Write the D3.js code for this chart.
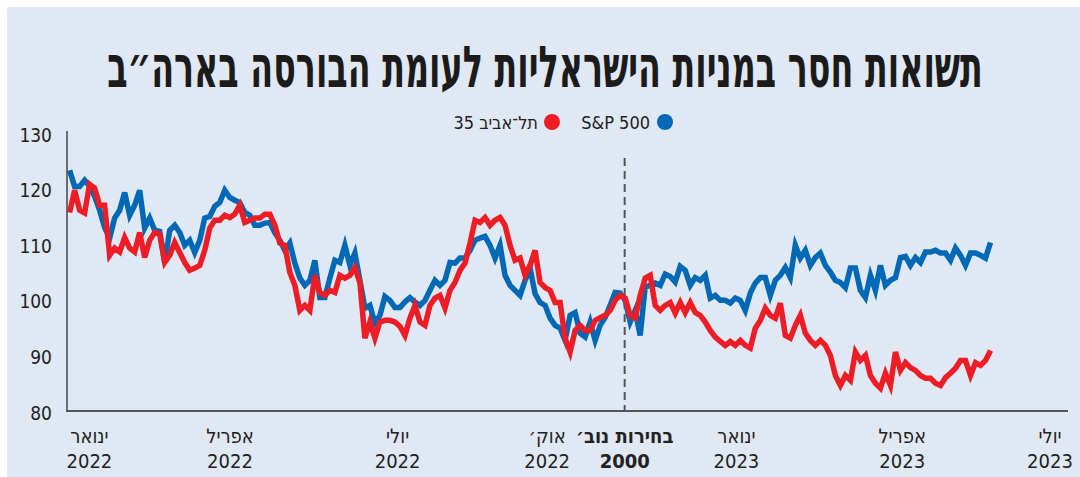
<!DOCTYPE html>
<html>
<head>
<meta charset="utf-8">
<script src="https://cdn.jsdelivr.net/npm/d3@7"></script>
<style>
  html, body { margin: 0; padding: 0; background: #fff; }
  svg { display: block; }
  text { font-family: 'DejaVu Sans Condensed', 'DejaVu Sans', 'Liberation Sans', sans-serif; fill: #222; }
</style>
</head>
<body>
<svg id="chart" width="1080" height="477"></svg>
<script>
// S&P 500 and TA-35, both indexed (Nov. election = ~100), sampled evenly from first to last date
const firstDate = new Date(2022, 0, 3);
const lastDate = new Date(2023, 4, 29);

const sp500 = [
  123.3, 120.4, 120.4, 121.5, 120.4, 118.6, 116.1, 113.0, 111.1, 114.7,
  116.1, 119.3, 115.2, 117.0, 119.7, 112.9, 114.7, 112.5, 112.3, 106.7,
  112.5, 113.4, 112.1, 109.8, 110.7, 108.5, 110.7, 114.7, 115.0, 116.8,
  117.5, 119.7, 118.4, 117.9, 117.5, 115.7, 115.2, 113.4, 113.4, 113.8,
  113.9, 112.1, 110.7, 108.9, 110.2, 106.6, 103.9, 102.6, 103.5, 107.1,
  100.4, 100.4, 103.9, 107.1, 106.7, 109.8, 106.2, 108.4, 103.5, 98.5,
  99.0, 95.8, 97.2, 100.6, 99.9, 98.6, 98.6, 99.6, 100.4, 99.6,
  99.0, 99.9, 101.7, 103.5, 102.6, 103.5, 106.7, 106.6, 107.5, 107.5,
  108.9, 110.7, 111.1, 111.4, 109.8, 107.5, 109.8, 104.4, 102.6, 101.7,
  100.8, 103.5, 105.7, 101.1, 99.5, 99.0, 96.7, 95.4, 94.9, 92.7,
  97.2, 97.7, 94.0, 93.3, 96.0, 92.7, 95.4, 96.8, 99.0, 101.3,
  101.2, 99.9, 96.0, 98.1, 93.6, 102.3, 102.6, 103.0, 102.6, 104.6,
  104.2, 103.2, 106.0, 105.3, 102.6, 104.0, 103.5, 104.4, 100.3, 100.8,
  99.9, 99.9, 99.4, 100.3, 99.9, 98.1, 101.2, 103.0, 104.0, 104.0,
  100.8, 103.5, 104.4, 105.8, 104.0, 109.8, 107.5, 108.9, 106.2, 107.6,
  108.4, 106.2, 105.0, 103.5, 103.1, 102.2, 105.7, 105.7, 101.7, 100.4,
  104.4, 101.7, 106.2, 102.6, 103.5, 104.0, 107.6, 107.8, 106.2, 107.6,
  106.7, 108.6, 108.6, 108.9, 108.4, 108.4, 107.1, 109.3, 108.0, 106.2,
  108.4, 108.4, 108.0, 107.5, 110.3
];

const ta35 = [
  115.7, 119.7, 116.1, 115.6, 120.8, 120.1, 117.0, 117.0, 108.0, 109.3,
  108.6, 111.2, 109.3, 108.6, 112.1, 107.6, 110.7, 112.1, 111.8, 106.7,
  108.0, 110.3, 108.5, 106.7, 105.3, 105.7, 106.2, 108.9, 112.9, 114.3,
  114.3, 115.2, 114.8, 115.4, 117.0, 113.9, 114.3, 114.7, 114.7, 115.4,
  115.4, 113.4, 110.2, 109.8, 104.9, 102.6, 98.1, 99.0, 98.1, 104.4,
  101.3, 100.8, 101.7, 101.3, 104.4, 103.9, 104.4, 105.8, 103.1, 93.1,
  96.0, 93.1, 96.0, 96.3, 96.3, 96.0, 95.2, 93.6, 96.7, 99.0,
  96.0, 95.4, 99.0, 100.3, 100.8, 98.5, 101.7, 103.1, 105.3, 106.6,
  110.2, 114.3, 113.9, 114.8, 113.4, 114.3, 114.8, 113.4, 109.8, 107.1,
  107.5, 104.4, 106.2, 108.9, 103.1, 102.2, 101.7, 99.5, 99.5, 93.1,
  90.6, 94.5, 95.4, 94.5, 94.5, 96.3, 96.8, 97.2, 98.1, 99.9,
  100.8, 100.3, 97.2, 96.7, 100.8, 103.9, 104.4, 99.0, 98.1, 99.0,
  99.5, 97.6, 99.5, 97.7, 99.5, 97.7, 97.2, 96.0, 94.5, 93.3,
  92.5, 91.8, 92.5, 91.8, 92.7, 91.8, 91.3, 94.9, 96.3, 98.5,
  97.2, 96.7, 99.4, 93.6, 93.1, 95.4, 97.2, 94.0, 92.7, 91.8,
  92.7, 91.8, 90.0, 86.4, 84.6, 86.4, 85.5, 90.6, 89.1, 90.0,
  86.4, 85.0, 84.1, 86.8, 84.6, 90.6, 87.3, 88.7, 87.8, 87.3,
  86.4, 85.9, 85.9, 85.0, 84.6, 86.0, 86.8, 87.7, 89.1, 89.1,
  86.4, 88.7, 88.2, 89.1, 90.9
];

const seriesNames = ['S&P 500', 'תל־אביב 35'];
const seriesColors = ['#0068b4', '#ee1d25'];

const yTicks = [80, 90, 100, 110, 120, 130];

const monthLabels = ['ינואר', 'אפריל', 'יולי', 'אוק׳', 'בחירות נוב׳', 'ינואר', 'אפריל', 'יולי'];
const yearLabels = ['2022', '2022', '2022', '2022', '2000', '2023', '2023', '2023'];
const labelDates = ['2022-01-14', '2022-04-02', '2022-07-04', '2022-09-25', '2022-11-07', '2023-01-08', '2023-04-10', '2023-07-01'];
const electionDate = '2022-11-07';

const title = 'תשואות חסר במניות הישראליות לעומת הבורסה בארה״ב';

const svg = d3.select('#chart');

svg.append('rect')
  .attr('x', 7).attr('y', 7)
  .attr('width', 1073).attr('height', 470)
  .attr('fill', '#e0e8f4');

const parse = d3.timeParse('%Y-%m-%d');

const x = d3.scaleTime()
  .domain([new Date(2022, 0, 1), new Date(2023, 6, 1)])
  .range([66, 1050]);

const y = d3.scaleLinear()
  .domain([80, 130])
  .range([411, 133]);

const step = (lastDate - firstDate) / (sp500.length - 1);
const dateAt = (i) => new Date(+firstDate + i * step);

// title, squeezed horizontally to the condensed width of the original
const titleText = svg.append('text')
  .attr('x', 0).attr('y', 0)
  .attr('text-anchor', 'middle')
  .attr('direction', 'rtl')
  .attr('font-size', 58)
  .attr('font-weight', 'bold')
  .style('fill', '#1b1b1b')
  .text(title);
const titleW = titleText.node().getComputedTextLength();
titleText.attr('transform', `translate(545,87) scale(${876 / titleW},1)`);

// legend
const legend = [
  { name: seriesNames[0], color: seriesColors[0], dot: 665, textRight: 650 },
  { name: seriesNames[1], color: seriesColors[1], dot: 552, textRight: 538 }
];
legend.forEach((d) => {
  svg.append('circle')
    .attr('cx', d.dot).attr('cy', 122).attr('r', 8)
    .attr('fill', d.color);
  svg.append('text')
    .attr('x', d.textRight).attr('y', 128.5)
    .attr('text-anchor', 'start')
    .attr('direction', 'rtl')
    .attr('font-size', 18)
    .text(d.name);
});

// axes
svg.append('line')
  .attr('x1', 67).attr('x2', 67)
  .attr('y1', 131).attr('y2', y(80))
  .attr('stroke', '#444').attr('stroke-width', 1.5);
svg.append('line')
  .attr('x1', 66).attr('x2', 1068)
  .attr('y1', y(80)).attr('y2', y(80))
  .attr('stroke', '#555').attr('stroke-width', 2);

svg.selectAll('.ylab')
  .data(yTicks)
  .join('text')
  .attr('class', 'ylab')
  .attr('x', 52)
  .attr('y', (d) => y(d) + 8.5)
  .attr('text-anchor', 'end')
  .attr('font-size', 19)
  .text((d) => d);

// election marker
svg.append('line')
  .attr('x1', x(parse(electionDate))).attr('x2', x(parse(electionDate)))
  .attr('y1', 158).attr('y2', y(80))
  .attr('stroke', '#555').attr('stroke-width', 2)
  .attr('stroke-dasharray', '8,5');

const labels = labelDates.map((d, i) => ({
  date: parse(d),
  month: monthLabels[i],
  year: yearLabels[i],
  bold: d === electionDate
}));

labels.forEach((d) => {
  const g = svg.append('g')
    .attr('font-size', 20)
    .attr('font-weight', d.bold ? 'bold' : 'normal');
  g.append('text')
    .attr('x', x(d.date)).attr('y', 443)
    .attr('text-anchor', 'middle')
    .attr('direction', 'rtl')
    .text(d.month);
  g.append('text')
    .attr('x', x(d.date)).attr('y', 468)
    .attr('text-anchor', 'middle')
    .text(d.year);
});

// lines
const line = d3.line()
  .x((d, i) => x(dateAt(i)))
  .y((d) => y(d));

[sp500, ta35].forEach((values, k) => {
  svg.append('path')
    .datum(values)
    .attr('d', line)
    .attr('fill', 'none')
    .attr('stroke', seriesColors[k])
    .attr('stroke-width', 5.5)
    .attr('stroke-linejoin', 'miter');
});
</script>
</body>
</html>
